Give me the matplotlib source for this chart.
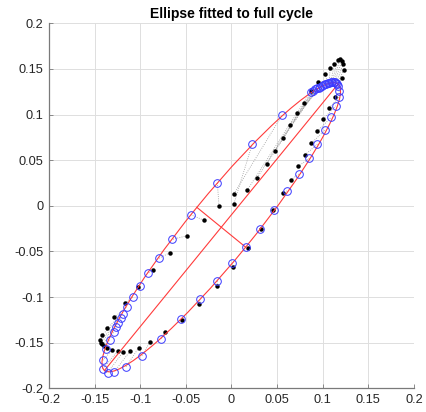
import numpy as np
import matplotlib.pyplot as plt
from matplotlib.patches import Ellipse

# measured points (black) over one cycle
data_x = [-0.1017, -0.0893, -0.0733, -0.0547, -0.0353, -0.0159, 0.0016, 0.0177, 0.0327, 0.0458,
          0.0560, 0.0652, 0.0729, 0.0806, 0.0875, 0.0940, 0.1006, 0.1072, 0.1130, 0.1207,
          0.1230, 0.1225, 0.1208, 0.1189, 0.1163, 0.1127, 0.1080, 0.1025, 0.0951, 0.0870,
          0.0798, 0.0721, 0.0641, 0.0561, 0.0477, 0.0386, 0.0283, 0.0170, 0.0027, 0.0027,
          -0.0137, -0.0305, -0.0491, -0.0678, -0.0860, -0.1025, -0.1167, -0.1284, -0.1368, -0.1423,
          -0.1441, -0.1434, -0.1416, -0.1394, -0.1361, -0.1306, -0.1247, -0.1185, -0.1112]
data_y = [-0.1556, -0.1490, -0.1388, -0.1249, -0.1074, -0.0884, -0.0676, -0.0460, -0.0256, -0.0044,
          0.0135, 0.0285, 0.0431, 0.0559, 0.0687, 0.0818, 0.0950, 0.1074, 0.1190, 0.1403,
          0.1487, 0.1553, 0.1589, 0.1611, 0.1600, 0.1553, 0.1510, 0.1443, 0.1355, 0.1255,
          0.1132, 0.1012, 0.0888, 0.0748, 0.0606, 0.0460, 0.0310, 0.0168, 0.0132, 0.0025,
          0.0000, -0.0157, -0.0329, -0.0515, -0.0701, -0.0888, -0.1067, -0.1220, -0.1341, -0.1417,
          -0.1476, -0.1498, -0.1516, -0.1534, -0.1560, -0.1578, -0.1596, -0.1598, -0.1593]

# matching points on the fitted ellipse (blue circles)
fit_x = [-0.1159, -0.0984, -0.0771, -0.0548, -0.0342, -0.0155, 0.0005, 0.0162, 0.0308, 0.0466,
         0.0610, 0.0743, 0.0853, 0.0942, 0.1023, 0.1094, 0.1142, 0.1178, 0.1182, 0.1171,
         0.1160, 0.1148, 0.1133, 0.1118, 0.1103, 0.1088, 0.1072, 0.1056, 0.1040, 0.1024,
         0.1007, 0.0990, 0.0972, 0.0954, 0.0934, 0.0914, 0.0892, 0.0868, 0.0557, 0.0228,
         -0.0155, -0.0444, -0.0652, -0.0798, -0.0911, -0.1003, -0.1083, -0.1149, -0.1186, -0.1214,
         -0.1240, -0.1266, -0.1291, -0.1332, -0.1375, -0.1412, -0.1412, -0.1357, -0.1284]
fit_y = [-0.1768, -0.1648, -0.1458, -0.1240, -0.1024, -0.0826, -0.0632, -0.0446, -0.0250, -0.0044,
         0.0164, 0.0353, 0.0521, 0.0676, 0.0827, 0.0972, 0.1096, 0.1191, 0.1253, 0.1310,
         0.1337, 0.1347, 0.1353, 0.1356, 0.1356, 0.1353, 0.1349, 0.1343, 0.1337, 0.1330,
         0.1322, 0.1314, 0.1305, 0.1296, 0.1286, 0.1275, 0.1263, 0.1250, 0.0997, 0.0679,
         0.0255, -0.0099, -0.0369, -0.0577, -0.0738, -0.0877, -0.1001, -0.1110, -0.1184, -0.1231,
         -0.1279, -0.1329, -0.1388, -0.1468, -0.1570, -0.1695, -0.1786, -0.1827, -0.1819]

# fitted ellipse parameters
ell_center = (-0.0112, -0.0235)
ell_a = 0.2025      # semi-major
ell_b = 0.0345      # semi-minor
ell_angle = 50.8    # degrees

ticks = [-0.2, -0.15, -0.1, -0.05, 0, 0.05, 0.1, 0.15, 0.2]
tick_labels = ['-0.2', '-0.15', '-0.1', '-0.05', '0', '0.05', '0.1', '0.15', '0.2']

plt.rcParams['font.family'] = ['Liberation Sans', 'DejaVu Sans']

fig = plt.figure(figsize=(4.26, 4.12), dpi=100)
ax = fig.add_axes([0.1150, 0.0575, 0.8568, 0.8859])

red = '#ff3b3b'

# dotted links data -> ellipse
for x0, y0, x1, y1 in zip(data_x, data_y, fit_x, fit_y):
    ax.plot([x0, x1], [y0, y1], ls=':', color='#9a9a9a', lw=0.6, zorder=2)

ax.plot(data_x, data_y, 'o', color='black', ms=3.2, mec='none', zorder=3)

# ellipse and its axes
ax.add_patch(Ellipse(ell_center, 2 * ell_a, 2 * ell_b, angle=ell_angle,
                     fill=False, ec=red, lw=0.8, zorder=4))
t = np.deg2rad(ell_angle)
cx, cy = ell_center
ax.plot([cx - ell_a * np.cos(t), cx + ell_a * np.cos(t)],
        [cy - ell_a * np.sin(t), cy + ell_a * np.sin(t)], color=red, lw=0.8, zorder=4)
ax.plot([cx + ell_b * np.sin(t), cx - ell_b * np.sin(t)],
        [cy - ell_b * np.cos(t), cy + ell_b * np.cos(t)], color=red, lw=0.8, zorder=4)

ax.plot(fit_x, fit_y, 'o', mfc='none', mec='#3a3aff', mew=0.7, ms=5.5, zorder=5)

ax.set_xlim(-0.2, 0.2)
ax.set_ylim(-0.2, 0.2)
ax.set_xticks(ticks)
ax.set_xticklabels(tick_labels)
ax.set_yticks(ticks)
ax.set_yticklabels(tick_labels)
ax.grid(True, color='#dedede', lw=0.7)
ax.set_axisbelow(True)
for side in ['top', 'right']:
    ax.spines[side].set_visible(False)
for side in ['left', 'bottom']:
    ax.spines[side].set_color('#7a7a7a')
    ax.spines[side].set_linewidth(0.9)
ax.tick_params(direction='in', length=3, width=0.6, color='#7a7a7a',
               labelsize=9.2, labelcolor='#262626', pad=4)

ax.set_title('Ellipse fitted to full cycle', fontsize=10, fontweight='bold', pad=4)

fig.savefig('out.png', dpi=100)
